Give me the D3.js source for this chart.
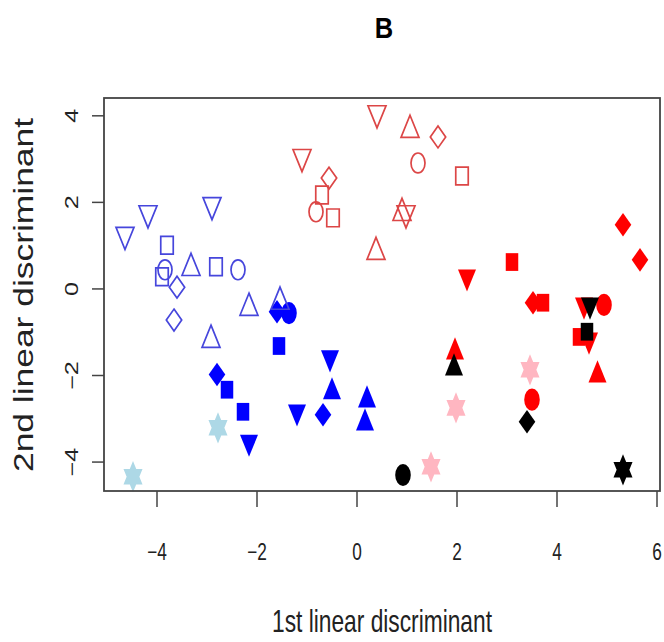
<!DOCTYPE html>
<html>
<head>
<meta charset="utf-8">
<script src="https://cdn.jsdelivr.net/npm/d3@7"></script>
<style>
  body{margin:0;background:#fff}
  text{font-family:"Liberation Sans",Arial,Helvetica,sans-serif}
</style>
</head>
<body>
<div id="chart"></div>
<script>
// discriminant scores, listed in drawing order
// groups: bF blue filled, bO blue open, rO red open, rF red filled, pk pink, lb light blue, k black
const group = [
  "bF","bF","bF","bF","bF","bF","bF","bF","bF","bF","bF","bF","bF",
  "bO","bO","bO","bO","bO","bO","bO","bO","bO","bO","bO","bO","bO","bO",
  "rO","rO","rO","rO","rO","rO","rO","rO","rO","rO","rO","rO","rO",
  "rF","rF","rF","rF","rF","rF","rF","rF","rF","rF","rF","rF","rF",
  "pk","pk","pk","lb","lb",
  "k","k","k","k","k","k"]
const shape = [
  "diamond","circle","square","diamond","square","square","triDown","triDown","triDown","diamond","triUp","triUp","triUp",
  "triDown","triDown","triDown","square","square","circle","triUp","square","circle","diamond","diamond","triUp","triUp","triUp",
  "triDown","triUp","diamond","circle","square","triDown","diamond","square","circle","square","triUp","triDown","triUp",
  "triUp","circle","diamond","square","triDown","circle","square","triDown","triUp","triDown","square","diamond","diamond",
  "star","star","star","star","star",
  "circle","triUp","diamond","star","triDown","square"]
const ld1 = [
  -1.59,-1.35,-1.55,-2.79,-2.59,-2.27,-2.15,-1.19,-0.53,-0.67,-0.49,0.21,0.17,
  -4.63,-4.17,-2.89,-3.79,-3.89,-3.83,-3.31,-2.81,-2.37,-3.59,-3.65,-2.15,-2.91,-1.53,
  0.41,1.07,1.63,1.23,2.11,-1.09,-0.55,-0.69,-0.81,-0.47,0.91,0.99,0.39,
  1.97,3.51,3.53,3.73,4.55,4.95,4.45,4.65,4.82,2.21,3.11,5.33,5.67,
  1.49,1.99,3.47,-4.47,-2.77,
  0.93,1.95,3.41,5.33,4.67,4.61]
const ld2 = [
  -0.54,-0.57,-1.33,-1.99,-2.34,-2.85,-3.55,-2.85,-1.60,-2.92,-2.39,-2.58,-3.11,
  1.24,1.74,1.93,1.00,0.27,0.43,0.47,0.50,0.43,0.03,-0.73,-0.45,-1.19,-0.31,
  4.05,3.66,3.50,2.90,2.60,3.04,2.55,2.16,1.77,1.63,1.74,1.74,0.84,
  -1.47,-2.57,-0.33,-0.33,-0.38,-0.38,-1.12,-1.19,-2.00,0.27,0.61,1.47,0.66,
  -4.12,-2.76,-1.88,-4.35,-3.22,
  -4.31,-1.84,-3.08,-4.19,-0.38,-1.00]
const xTicks = [-4,-2,0,2,4,6]
const yTicks = [-4,-2,0,2,4]

const style = {
  bF:{color:"#0000ff",open:false}, bO:{color:"#4646dc",open:true},
  rO:{color:"#dc4646",open:true}, rF:{color:"#ff0000",open:false},
  pk:{color:"#ffb6c1",open:false}, lb:{color:"#add8e6",open:false},
  k:{color:"#000000",open:false}
}

const W=664, H=642
const mLeft=104, mRight=660, mTop=98, mBottom=491
const stretch=1.42   // the figure is taller than it is wide

const svg=d3.select("#chart").append("svg")
  .attr("width",W).attr("height",H)
  .style("background","#fff")

const x=d3.scaleLinear().domain([-5.05,6.07]).range([mLeft,mRight])
const y=d3.scaleLinear().domain([-4.68,4.40]).range([mBottom,mTop])

// marker outline in an unstretched frame centred on 0,0
function marker(s,open)
{
  const p=d3.path()
  if(s=="square"){
    let h=12.5/2
    p.rect(-h,-h,2*h,2*h)
  }else if(s=="circle"){
    let r=open?7:7.8
    p.moveTo(r,0); p.arc(0,0,r,0,2*Math.PI)
  }else if(s=="triUp"||s=="triDown"){
    let w=18, h=w*Math.sqrt(3)/2, d=(s=="triUp")?1:-1
    p.moveTo(0,-d*h*2/3); p.lineTo(w/2,d*h/3); p.lineTo(-w/2,d*h/3); p.closePath()
  }else if(s=="diamond"){
    let r=open?7.7:8.3
    p.moveTo(0,-r); p.lineTo(r,0); p.lineTo(0,r); p.lineTo(-r,0); p.closePath()
  }else if(s=="star"){
    let r=11
    for(let k=0;k<2;++k){
      for(let i=0;i<3;++i){
        let a=(k==0?-90:90)+i*120
        let px=r*Math.cos(a*Math.PI/180), py=r*Math.sin(a*Math.PI/180)
        if(i==0) p.moveTo(px,py); else p.lineTo(px,py)
      }
      p.closePath()
    }
  }
  return p.toString()
}

// title
svg.append("text")
  .attr("transform","translate(384,38) scale(0.85,1)")
  .attr("text-anchor","middle")
  .style("font-size","30px").style("font-weight","bold")
  .text("B")

// points
const pts=d3.range(ld1.length)
svg.append("g").selectAll("path").data(pts).join("path")
  .attr("d",i=>marker(shape[i],style[group[i]].open))
  .attr("transform",i=>`translate(${x(ld1[i])},${y(ld2[i])}) scale(1,${stretch})`)
  .attr("fill",i=>style[group[i]].open?"none":style[group[i]].color)
  .attr("stroke",i=>style[group[i]].open?style[group[i]].color:"none")
  .attr("stroke-width",1.7)
  .attr("vector-effect","non-scaling-stroke")

// axes
const gx=svg.append("g").attr("transform",`translate(0,${mBottom})`)
  .call(d3.axisBottom(x).tickValues(xTicks).tickSize(16).tickFormat(d3.format("d")))
gx.select(".domain").remove()
gx.selectAll("line").attr("stroke","#444").attr("stroke-width",1.5)
gx.selectAll("text")
  .attr("y",61).attr("dy","0.35em")
  .attr("transform","scale(0.75,1)")
  .attr("fill","#222")
  .style("font-size","23px")

const gy=svg.append("g").attr("transform",`translate(${mLeft},0)`)
  .call(d3.axisLeft(y).tickValues(yTicks).tickSize(12).tickFormat(d3.format("d")))
gy.select(".domain").remove()
gy.selectAll("line").attr("stroke","#444").attr("stroke-width",1.5)
gy.selectAll("text")
  .attr("x",0).attr("y",0).attr("dy","0.35em")
  .attr("text-anchor","middle")
  .attr("transform","translate(-32,0) rotate(-90) scale(1.4,1)")
  .attr("fill","#222")
  .style("font-size","18px")

// box
svg.append("rect")
  .attr("x",mLeft).attr("y",mTop)
  .attr("width",mRight-mLeft).attr("height",mBottom-mTop)
  .attr("fill","none").attr("stroke","#444").attr("stroke-width",1.8)

// axis titles
svg.append("text")
  .attr("x",382).attr("y",632)
  .attr("text-anchor","middle")
  .attr("textLength",220).attr("lengthAdjust","spacingAndGlyphs")
  .style("font-size","32px").attr("fill","#222")
  .text("1st linear discriminant")

svg.append("text")
  .attr("transform","translate(33,295) rotate(-90)")
  .attr("text-anchor","middle")
  .attr("textLength",354).attr("lengthAdjust","spacingAndGlyphs")
  .style("font-size","27px").attr("fill","#222")
  .text("2nd linear discriminant")
</script>
</body>
</html>
